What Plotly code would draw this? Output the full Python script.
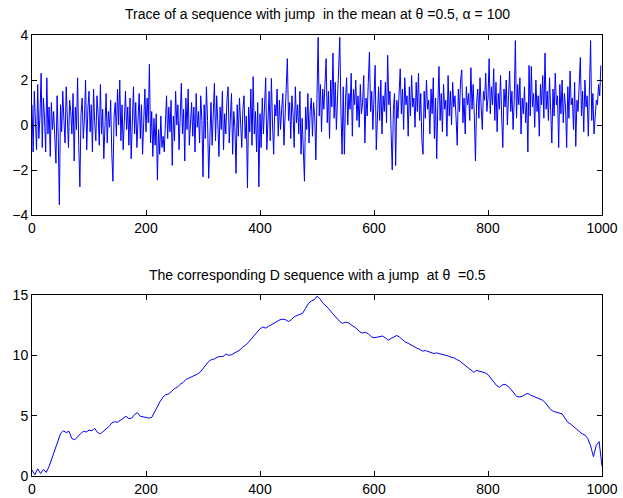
import plotly.graph_objects as go

trace_values = [
    0.9, -1.2, 1.5, 0.2, -1.1, 1.8, -0.6, 0.4, 2.3, -1.0, 1.2, 0.3, -1.2, 2.1, -0.4, 0.8, -1.4, 1.0, -0.2, 0.6,
    -0.9, -1.7, 1.3, -0.5, -3.55, 0.9, -0.3, 1.5, 0.2, -0.8, 1.7, 0.4, -1.0, 1.1, 0.6, -0.4, 1.4, -1.6, 0.8, -0.2,
    2.1, -0.9, -2.75, 0.5, 1.2, -0.6, 0.3, 2.0, -1.1, 0.7,
    1.5, -0.3, 0.9, -1.2, 1.6, 0.1, -0.7, 1.3, 0.5, -0.9, 1.8, -0.4, 0.7, -1.5, 0.2, 1.4, -0.8, 0.6, -0.1, 1.1,
    -1.3, -2.5, 0.4, 1.0, -0.5, 1.6, 0.0, 2.0, -0.7, 0.9, -1.1, 0.3, 1.5, -0.2, 0.8, -0.9, 1.2, -1.5, 0.6, 1.7,
    -0.4, 1.0, -1.0, 0.2, 1.4, -0.6, 0.9, -1.3, 0.5, 1.6,
    -0.3, 1.2, 0.1, 2.7, -0.8, 0.6, -1.4, 0.3, -0.9, 0.5, -2.45, -0.2, -1.3, 0.4, -1.0, -0.5, -1.2, 0.2, 1.3, -0.6,
    0.8, -0.3, 1.1, -1.8, 0.4, -0.7, 1.5, 0.0, 0.9, -1.1, 0.6, 1.85, -0.4, 0.7, -1.6, 1.2, -0.2, 1.6, -0.9, 0.3,
    1.0, -0.5, 0.8, -1.2, 1.4, -0.1, 0.6, -0.8, 1.3, 0.2,
    -2.3, 0.9, -0.6, 1.7, 0.2, -2.37, -0.3, 1.0, -0.9, 0.4, 1.85, -0.7, 1.3, 0.1, -1.4, 0.8, -0.2, 1.5, -1.1, 0.5,
    -0.4, 1.1, 1.7, -0.8, 0.3, 1.4, -1.3, 0.6, -0.1, -2.15, 0.9, -0.5, 1.2, 0.0, -1.0, 0.7, 1.3, -0.6, 0.4, -2.8,
    0.8, -0.3, 1.6, -0.9, 2.15, -0.4, 0.6, -1.2, 1.0, -2.75,
    0.5, -1.0, 1.2, -0.4, 0.8, 2.1, -1.1, 0.3, 1.5, -0.7, 2.07, 0.0, -1.3, 0.9, 0.4, 1.6, -0.5, 1.1, -0.2, 0.7,
    1.4, -0.9, 0.6, 1.8, 2.95, 0.2, 1.0, -0.6, 1.3, 0.5, -1.0, 1.7, 0.1, 0.9, -0.4, 1.5, -1.3, 0.3, -1.5, -2.5,
    0.8, -0.2, 1.4, -0.8, 0.6, 1.2, -0.5, 1.0, 0.4, -1.55,
    1.3, 3.9, 0.4, 1.8, -0.3, 1.6, 0.7, 2.2, 2.95, 0.1, 1.5, -0.6, 2.0, 0.8, 3.2, 0.3, 1.9, -0.2, 1.2, 2.4,
    3.9, 0.6, -1.3, 1.7, -1.3, 1.1, 2.1, 0.0, 1.4, 0.7, 2.3, -0.5, 1.6, 0.9, 2.0, 0.2, 1.3, -0.1, 1.8, 0.5,
    1.0, 2.2, -0.8, 1.2, 0.4, 1.9, 3.25, 0.6, 1.5, -0.2,
    1.0, 2.65, -1.1, 0.8, 1.7, 0.2, 2.0, -0.4, 1.3, 0.6, 1.9, 0.1, 3.1, 0.9, 1.5, -0.3, -2.0, 0.7, 1.4, -1.8,
    1.1, 0.3, 1.8, 2.5, 0.5, 1.6, -0.2, 2.1, 0.9, 1.3, -0.5, 1.7, 0.4, 2.2, 0.8, 1.2, -0.1, 1.9, 0.6, 2.3,
    0.2, 1.4, -0.7, -1.3, 1.5, 0.3, 2.0, 0.7, 1.1, -0.4,
    1.6, 0.5, 2.1, -0.6, 1.2, -1.5, 0.9, 2.6, 0.2, 1.4, -0.3, 1.8, 0.7, 1.1, -0.5, 2.2, 0.4, 1.5, 0.0, 1.9,
    0.8, 1.3, 0.3, -0.9, 1.6, 0.6, 2.0, 2.45, 0.1, 1.2, -0.4, 1.7, 0.9, 1.4, 0.2, 2.55, 0.7, 1.8, 0.4, -1.6,
    1.0, 1.6, 0.3, 2.1, 0.8, -0.2, 1.5, 1.1, 2.3, 0.6,
    1.2, 2.95, 0.5, 1.7, 0.9, 2.5, 0.2, 1.9, -0.3, 1.4, 0.7, 2.2, 0.4, -1.0, 1.6, 0.8, 2.0, 0.0, 1.3, 2.4,
    0.6, 1.5, -0.2, 1.1, 3.75, 0.3, 1.8, 0.9, 2.1, -0.4, 1.2, 0.5, 1.7, 0.1, 1.0, -1.2, 2.65, 0.4, 2.6, 0.8,
    1.4, -0.1, 2.0, 0.6, 1.3, -0.5, 1.8, 0.9, 2.2, 0.3,
    3.2, 0.7, 1.5, 0.2, 2.1, 1.0, -0.8, 1.6, 0.4, 2.3, 0.9, 1.3, -1.0, 1.8, 0.5, 2.0, 0.1, 1.4, 0.8, -1.0,
    1.7, 0.3, 2.4, 0.9, 1.2, -0.2, 1.9, -0.95, 1.1, 0.6, 2.2, 3.0, 0.4, 1.5, -0.3, 2.0, 0.8, 1.3, -0.5, 1.7,
    3.75, 0.2, 1.4, -0.4, 0.6, 1.1, 0.9, 1.8, 1.3, 2.65,
]
trace_step = 2

d_values = [
    0.5, 0.1, 0.6, 0.2, 0.55, 0.3, 0.8, 1.5, 2.1, 2.9, 3.5, 3.75, 3.6, 3.7, 3.1, 3.0, 3.3, 3.5, 3.7, 3.65,
    3.8, 3.75, 3.95, 3.6, 3.5, 3.7, 3.85, 4.1, 4.4, 4.5, 4.45, 4.6, 4.8, 4.95, 4.75, 4.8, 5.1, 5.25, 4.95, 4.9,
    4.85, 4.8, 4.85, 5.3, 5.8, 6.2, 6.55, 6.75, 6.8, 7.0, 7.25, 7.35, 7.6, 7.75, 8.0, 8.1, 8.2, 8.3, 8.45, 8.6,
    8.95, 9.2, 9.5, 9.65, 9.7, 9.85, 9.9, 9.9, 10.1, 10.0, 10.05, 10.2, 10.35, 10.45, 10.7, 10.85, 11.1, 11.4, 11.6, 11.9,
    12.2, 12.35, 12.25, 12.4, 12.55, 12.7, 12.85, 12.95, 13.0, 12.95, 12.8, 12.95, 13.2, 13.3, 13.4, 13.5, 13.9, 14.3, 14.5, 14.6,
    14.9, 14.7, 14.35, 14.15, 13.9, 13.6, 13.3, 13.05, 12.8, 12.65, 12.75, 12.7, 12.55, 12.35, 12.2, 11.95, 11.85, 11.9, 11.8, 11.55,
    11.45, 11.5, 11.55, 11.6, 11.45, 11.25, 11.4, 11.5, 11.65, 11.5, 11.3, 11.1, 11.0, 10.85, 10.7, 10.6, 10.5, 10.35, 10.4, 10.3,
    10.2, 10.15, 10.2, 10.15, 10.05, 10.0, 9.95, 9.85, 9.8, 9.65, 9.55, 9.35, 9.15, 9.0, 8.8, 8.6, 8.75, 8.7, 8.65, 8.55,
    8.4, 8.1, 7.8, 7.5, 7.35, 7.55, 7.6, 7.45, 7.2, 6.9, 6.6, 6.55, 6.6, 6.75, 6.85, 6.7, 6.6, 6.55, 6.45, 6.3,
    6.1, 5.8, 5.5, 5.35, 5.3, 5.25, 5.15, 4.8, 4.45, 4.3, 4.1, 3.9, 3.65, 3.5, 3.4, 3.1, 2.5, 1.6, 2.55, 2.85,
    0.8,
]
d_step = 5

x_ticks = [0, 200, 400, 600, 800, 1000]
top_y_ticks = [-4, -2, 0, 2, 4]
bottom_y_ticks = [0, 5, 10, 15]

title_top = "Trace of a sequence with jump\u00a0 in the mean at \u03b8 =0.5, \u03b1 = 100"
title_bottom = "The corresponding D sequence with a jump\u00a0 at \u03b8\u00a0 =0.5"

trace_x = [i * trace_step for i in range(len(trace_values))]
d_x = [i * d_step for i in range(len(d_values))]

W, H = 623, 498
FONT = "Liberation Sans, Arial, Helvetica, sans-serif"

fig = go.Figure()
fig.add_trace(go.Scatter(x=trace_x, y=trace_values, mode="lines",
                         line=dict(color="#0000ff", width=1), xaxis="x", yaxis="y", showlegend=False))
fig.add_trace(go.Scatter(x=d_x, y=d_values, mode="lines",
                         line=dict(color="#0000ff", width=1), xaxis="x2", yaxis="y2", showlegend=False))

axis_common = dict(showline=True, linecolor="black", linewidth=1, mirror="ticks",
                   ticks="inside", ticklen=5, tickcolor="black", showgrid=False, zeroline=False,
                   automargin=False,
                   tickfont=dict(family=FONT, size=14, color="black"))

L, R = 32, 602
def ydom(top_px, bot_px):
    return [(H - bot_px) / H, (H - top_px) / H]

fig.update_layout(
    width=W, height=H,
    margin=dict(l=L, r=W - R, t=0, b=0, autoexpand=False),
    paper_bgcolor="white", plot_bgcolor="white",
    xaxis=dict(domain=[0, 1], range=[0, 1000], tickvals=x_ticks, anchor="y", **axis_common),
    yaxis=dict(domain=ydom(35, 215), range=[-4, 4], tickvals=top_y_ticks, anchor="x", **axis_common),
    xaxis2=dict(domain=[0, 1], range=[0, 1000], tickvals=x_ticks, anchor="y2", **axis_common),
    yaxis2=dict(domain=ydom(295, 476), range=[0, 15], tickvals=bottom_y_ticks, anchor="x2", **axis_common),
    annotations=[
        dict(text=title_top, xref="paper", yref="paper", x=0.5, y=(H - 14) / H, showarrow=False,
             xanchor="center", yanchor="middle", font=dict(family=FONT, size=14, color="black")),
        dict(text=title_bottom, xref="paper", yref="paper", x=0.5, y=(H - 275) / H, showarrow=False,
             xanchor="center", yanchor="middle", font=dict(family=FONT, size=14, color="black")),
    ],
)

fig.write_html("out.html", config={"displayModeBar": False},
               post_script="document.body.style.margin='0';document.body.style.overflow='hidden';")
